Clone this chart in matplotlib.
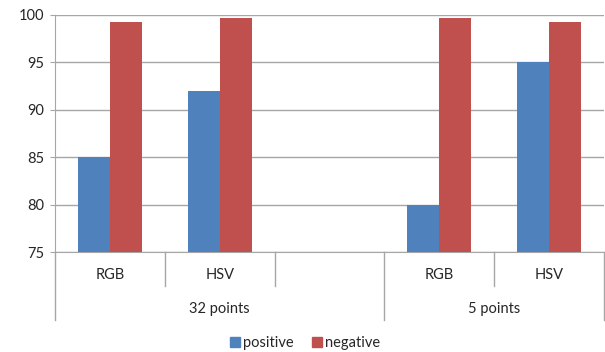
import numpy as np
import matplotlib
matplotlib.use('Agg')
from matplotlib import pyplot as plt
from matplotlib.patches import Patch

# Data
categories = ['RGB', 'HSV', '', 'RGB', 'HSV']
groups = ['32 points', '5 points']
group_spans = [(0, 3), (3, 5)]      # category index ranges per group
positive = [85, 92, np.nan, 80, 95]
negative = [99.25, 99.65, np.nan, 99.65, 99.25]

blue = '#4F81BD'
red = '#C0504D'
grid_col = '#A6A6A6'
txt_col = '#262626'

plt.rcParams['font.family'] = ['Lato', 'DejaVu Sans']
plt.rcParams['font.size'] = 10.5

fig = plt.figure(figsize=(6.05, 3.52), dpi=100)
ax = fig.add_axes([55/605, 1 - 252/352, (604 - 55)/605, (252 - 15)/352])

x = np.arange(len(categories))
w = 0.29
ax.bar(x - w/2, positive, w, bottom=0, color=blue, zorder=3)
ax.bar(x + w/2, negative, w, bottom=0, color=red, zorder=3)

ax.set_xlim(-0.5, len(categories) - 0.5)
ax.set_ylim(75, 100)
ax.set_yticks(np.arange(75, 101, 5))
ax.yaxis.grid(True, color=grid_col, linewidth=1)
ax.set_axisbelow(True)
ax.tick_params(axis='y', length=3.6, color=grid_col, colors=txt_col, pad=4)
ax.tick_params(axis='x', length=0, labelbottom=False)
for s in ['top', 'right']:
    ax.spines[s].set_visible(False)
ax.spines['left'].set_color(grid_col)
ax.spines['bottom'].set_color(grid_col)

# Multi-level category axis
tr = ax.get_xaxis_transform()
y_cat = -34 / 237
y_grp = -68 / 237
for i in range(len(categories) + 1):
    xi = i - 0.5
    is_group_edge = any(xi == s - 0.5 for s, e in group_spans) or xi == len(categories) - 0.5
    low = y_grp if is_group_edge else y_cat
    ax.plot([xi, xi], [0, low], transform=tr, color=grid_col, lw=1, clip_on=False)
for i, c in enumerate(categories):
    ax.text(i, -23 / 237, c, transform=tr, ha='center', va='center', color=txt_col)
for g, (s, e) in zip(groups, group_spans):
    ax.text((s + e - 1) / 2, -57 / 237, g, transform=tr, ha='center', va='center', color=txt_col)

# Legend
handles = [Patch(color=blue, label='positive'), Patch(color=red, label='negative')]
fig.legend(handles=handles, loc='center', bbox_to_anchor=(305/605, 1 - 343/352), ncol=2,
           frameon=False, handlelength=0.7, handleheight=0.7, handletextpad=0.2,
           columnspacing=1.2, labelcolor=txt_col)

fig.savefig('out.png', dpi=100)
